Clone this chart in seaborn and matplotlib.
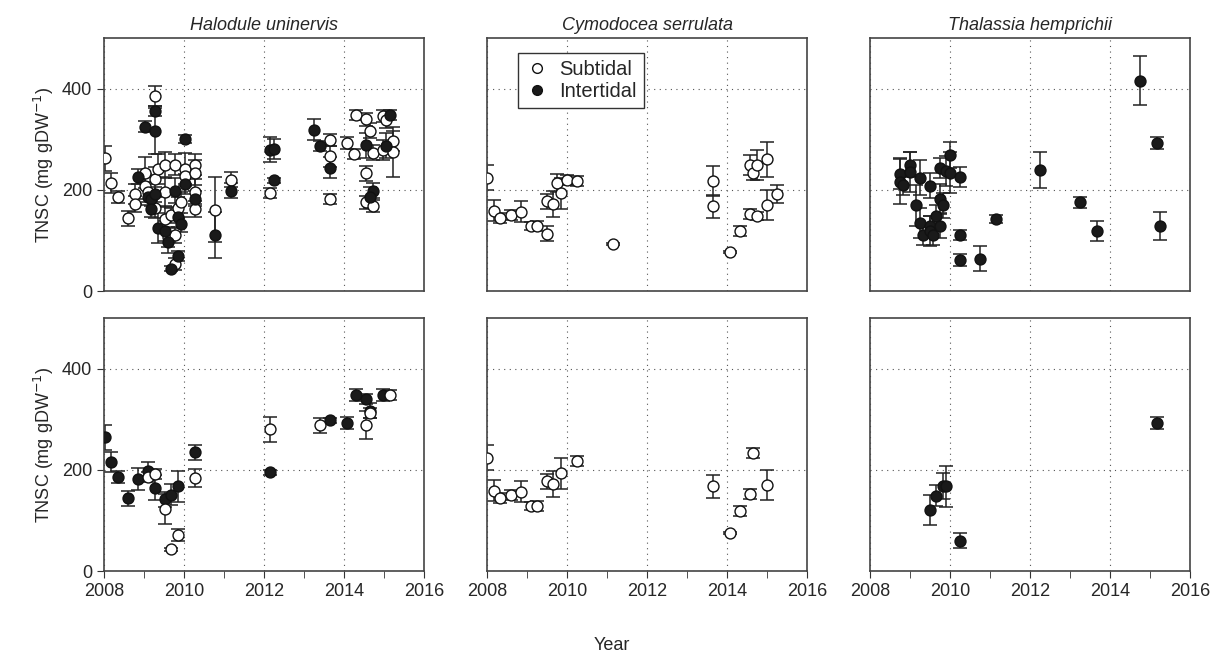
import numpy as np
import pandas as pd
import matplotlib
matplotlib.use("Agg")
import matplotlib.pyplot as plt
from matplotlib.lines import Line2D
import seaborn as sns

sns.set_style("white")
plt.rcParams['font.family'] = ['Liberation Sans', 'DejaVu Sans']

species = ["Halodule uninervis", "Cymodocea serrulata", "Thalassia hemprichii"]

# top row: all sites
hu_sub_x = [2008.02, 2008.18, 2008.35, 2008.6, 2008.77, 2008.77, 2009.02, 2009.02, 2009.1, 2009.27, 2009.27, 2009.27,
            2009.35, 2009.52, 2009.52, 2009.52, 2009.6, 2009.68, 2009.77, 2009.77, 2009.77, 2009.85, 2009.93, 2010.02,
            2010.02, 2010.27, 2010.27, 2010.27, 2010.27, 2010.77, 2011.18, 2012.16, 2013.64, 2013.64, 2013.64, 2014.08,
            2014.25, 2014.31, 2014.56, 2014.56, 2014.56, 2014.66, 2014.73, 2014.73, 2014.98, 2014.98, 2015.06, 2015.23, 2015.23]
hu_sub_y = [262, 214, 185, 144, 191, 172, 234, 207, 196, 385, 221, 165,
            241, 249, 196, 142, 106, 150, 250, 110, 54, 165, 175, 242,
            228, 250, 234, 196, 162, 161, 220, 193, 298, 266, 182, 292,
            270, 347, 233, 175, 339, 317, 273, 168, 346, 279, 337, 296, 275]
hu_sub_e = [25, 20, 12, 15, 20, 15, 30, 25, 20, 20, 25, 20,
            30, 25, 30, 25, 20, 15, 20, 15, 12, 20, 20, 30,
            20, 20, 25, 25, 15, 65, 15, 10, 12, 20, 10, 12,
            10, 10, 15, 12, 12, 15, 15, 12, 12, 20, 15, 20, 50]
hu_int_x = [2008.85, 2009.02, 2009.1, 2009.18, 2009.27, 2009.27, 2009.18, 2009.27, 2009.35, 2009.52, 2009.6, 2009.68,
            2009.85, 2009.77, 2009.85, 2009.93, 2010.02, 2010.02, 2010.27, 2010.77, 2011.18, 2012.16, 2012.24, 2012.24,
            2013.24, 2013.41, 2013.64, 2014.56, 2014.73, 2014.66, 2015.06, 2015.14]
hu_int_y = [226, 325, 185, 182, 355, 316, 162, 191, 124, 119, 96, 44,
            70, 198, 146, 132, 300, 211, 182, 111, 198, 279, 281, 219,
            319, 287, 244, 288, 198, 185, 287, 348]
hu_int_e = [15, 10, 15, 15, 10, 45, 15, 15, 30, 20, 20, 5,
            10, 25, 20, 15, 8, 20, 15, 45, 15, 25, 20, 5,
            20, 10, 20, 25, 15, 20, 25, 10]

cs_sub_x = [2008.0, 2008.17, 2008.33, 2008.59, 2008.84, 2009.09, 2009.24, 2009.49, 2009.49, 2009.66, 2009.74, 2009.84,
            2010.0, 2010.24, 2011.16, 2013.65, 2013.65, 2014.07, 2014.32, 2014.57, 2014.65, 2014.74, 2014.57, 2014.74,
            2014.99, 2014.99, 2015.24]
cs_sub_y = [224, 159, 144, 151, 157, 128, 129, 113, 177, 172, 214, 193,
            219, 218, 93, 218, 167, 77, 119, 249, 234, 249, 152, 149,
            260, 170, 191]
cs_sub_e = [25, 20, 10, 10, 20, 8, 10, 15, 15, 25, 18, 30,
            10, 10, 2, 30, 22, 2, 10, 20, 15, 30, 10, 8,
            35, 30, 18]

th_int_x = [2008.75, 2008.75, 2008.83, 2009.0, 2009.0, 2009.16, 2009.25, 2009.25, 2009.33, 2009.5, 2009.5, 2009.5,
            2009.58, 2009.66, 2009.75, 2009.75, 2009.75, 2009.83, 2009.91, 2010.0, 2010.0, 2010.24, 2010.24, 2010.24,
            2010.74, 2011.16, 2012.26, 2013.25, 2013.67, 2014.75, 2015.17, 2015.25]
th_int_y = [232, 216, 209, 250, 235, 169, 224, 134, 110, 208, 129, 119,
            111, 149, 243, 182, 129, 169, 237, 269, 234, 226, 111, 62,
            64, 142, 239, 175, 119, 416, 292, 129]
th_int_e = [30, 45, 20, 25, 40, 40, 35, 30, 20, 25, 20, 30,
            20, 20, 20, 30, 25, 25, 30, 25, 40, 20, 10, 12,
            25, 8, 35, 10, 20, 48, 12, 28]

# bottom row: subset
hu2_int_x = [2008.02, 2008.18, 2008.35, 2008.6, 2008.85, 2009.1, 2009.27, 2009.52, 2009.68, 2009.85, 2010.27, 2012.16,
             2013.64, 2014.08, 2014.31, 2014.56, 2014.66, 2014.98]
hu2_int_y = [264, 216, 185, 144, 182, 198, 165, 142, 151, 167, 235, 195,
             298, 293, 348, 340, 317, 347]
hu2_int_e = [25, 20, 12, 15, 22, 18, 25, 15, 20, 30, 15, 5,
             5, 12, 12, 10, 15, 12]
hu2_sub_x = [2009.1, 2009.27, 2009.52, 2009.68, 2009.85, 2010.27, 2012.16, 2013.41, 2014.56, 2014.66, 2015.14]
hu2_sub_y = [185, 191, 123, 43, 71, 184, 280, 288, 289, 313, 348]
hu2_sub_e = [10, 10, 30, 3, 12, 18, 25, 15, 28, 10, 10]

cs2_sub_x = [2008.0, 2008.17, 2008.33, 2008.59, 2008.84, 2009.09, 2009.24, 2009.49, 2009.66, 2009.84, 2010.24,
             2013.65, 2014.07, 2014.32, 2014.57, 2014.65, 2014.99]
cs2_sub_y = [224, 159, 144, 151, 157, 128, 129, 177, 172, 193, 218, 167, 75, 119, 152, 234, 170]
cs2_sub_e = [25, 20, 10, 10, 20, 8, 10, 15, 25, 30, 10, 22, 2, 10, 10, 10, 30]

th2_int_x = [2009.5, 2009.66, 2009.83, 2009.91, 2010.24, 2015.17]
th2_int_y = [120, 149, 168, 167, 60, 292]
th2_int_e = [30, 20, 25, 40, 15, 12]

panels = [
    [(hu_sub_x, hu_sub_y, hu_sub_e, "Subtidal"), (hu_int_x, hu_int_y, hu_int_e, "Intertidal")],
    [(cs_sub_x, cs_sub_y, cs_sub_e, "Subtidal")],
    [(th_int_x, th_int_y, th_int_e, "Intertidal")],
    [(hu2_int_x, hu2_int_y, hu2_int_e, "Intertidal"), (hu2_sub_x, hu2_sub_y, hu2_sub_e, "Subtidal")],
    [(cs2_sub_x, cs2_sub_y, cs2_sub_e, "Subtidal")],
    [(th2_int_x, th2_int_y, th2_int_e, "Intertidal")],
]

fig = plt.figure(figsize=(12.23, 6.6), dpi=100)
lefts = [104 / 1223, 487 / 1223, 870 / 1223]
bottoms = [1 - 291 / 660, 1 - 571 / 660]
w, h = 320 / 1223, 253 / 660
faces = {"Subtidal": "white", "Intertidal": "#1a1a1a"}

for i, series in enumerate(panels):
    r, c = divmod(i, 3)
    ax = fig.add_axes([lefts[c], bottoms[r], w, h])
    for x, y, e, site in series:
        ax.errorbar(x, y, yerr=e, fmt="none", ecolor="#222222", elinewidth=1.1, capsize=5, capthick=1.1, zorder=2)
        df = pd.DataFrame({"Year": x, "TNSC": y})
        sns.scatterplot(data=df, x="Year", y="TNSC", ax=ax, s=62, color=faces[site],
                        edgecolor="#111111", linewidth=1.0, zorder=3, legend=False)
    ax.set_xlim(2008, 2016)
    ax.set_ylim(0, 500)
    ax.set_xticks([2008, 2010, 2012, 2014, 2016])
    ax.set_xticks(np.arange(2009, 2016, 2), minor=True)
    ax.set_yticks([0, 200, 400])
    ax.grid(True, which="major", linestyle=(0, (1, 4)), color="#555555", linewidth=0.8)
    ax.tick_params(which="both", direction="out", length=5, color="#333333", labelsize=13,
                   bottom=(r == 1), left=(c == 0))
    for s in ax.spines.values():
        s.set_color("#444444")
        s.set_linewidth(1.2)
    ax.set_xlabel("")
    ax.set_ylabel("")
    if r == 0:
        ax.set_xticklabels([])
        ax.set_title(species[c], fontsize=13, fontstyle="italic", pad=6)
    if c != 0:
        ax.set_yticklabels([])
    else:
        ax.set_ylabel("TNSC (mg gDW$^{-1}$)", fontsize=13)
    if i == 1:
        handles = [Line2D([], [], marker="o", ls="", mfc="white", mec="#111111", ms=7),
                   Line2D([], [], marker="o", ls="", mfc="#1a1a1a", mec="#111111", ms=7)]
        ax.legend(handles, ["Subtidal", "Intertidal"], loc="upper left", bbox_to_anchor=(0.065, 0.98),
                  fontsize=14.5, frameon=True, fancybox=False, edgecolor="#333333", framealpha=1,
                  handletextpad=0.5, borderpad=0.35, labelspacing=0.15, handlelength=1.2)

fig.text(0.5, 0.015, "Year", ha="center", fontsize=13)
fig.savefig("out.png", dpi=100)
